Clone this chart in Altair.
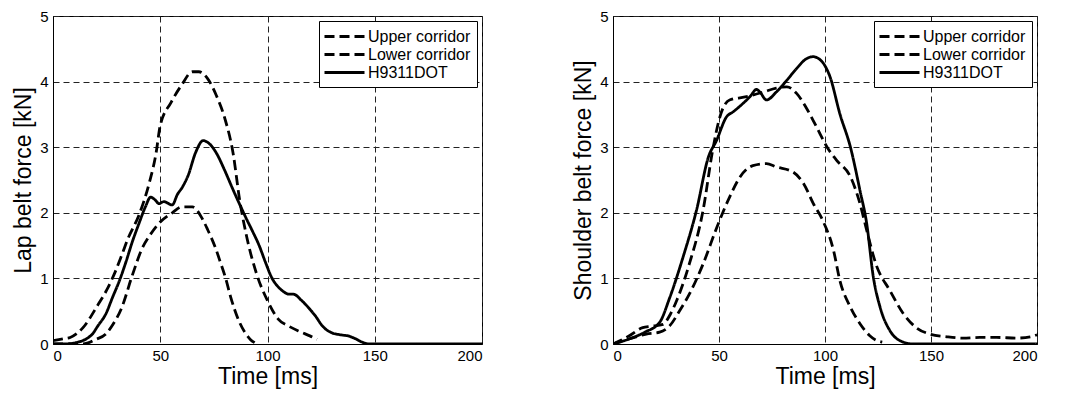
import altair as alt
import pandas as pd

series_names = ["Upper corridor", "Lower corridor", "H9311DOT"]

# ---- Lap belt force (left panel) ----
lap_upper_t = [0, 5, 8, 14, 21, 25, 29, 32, 35, 40, 45, 48, 50, 55, 60, 65, 68, 72, 76, 80, 84, 87, 90, 95, 100, 105, 110, 115, 120, 123]
lap_upper_f = [0.05, 0.08, 0.1, 0.25, 0.6, 0.82, 1.1, 1.35, 1.61, 1.96, 2.47, 2.9, 3.33, 3.68, 3.95, 4.15, 4.15, 4.05, 3.8, 3.45, 2.9, 2.2, 1.68, 1.06, 0.66, 0.38, 0.27, 0.19, 0.12, 0.07]

lap_lower_t = [0, 10, 14, 20, 24.5, 28, 32, 37, 41.6, 45, 49.4, 55.6, 60, 65, 69.6, 72, 75.8, 78, 80.5, 82.8, 86.7, 90, 92, 94]
lap_lower_f = [0.0, 0.0, 0.0, 0.07, 0.15, 0.3, 0.55, 1.05, 1.46, 1.65, 1.84, 2.0, 2.09, 2.09, 1.91, 1.75, 1.46, 1.25, 1.0, 0.72, 0.35, 0.15, 0.07, 0.02]

lap_dot_t = [0, 5, 10.6, 18.3, 21, 24.5, 28, 30.8, 34, 37, 40, 43.2, 45.5, 47.5, 49.4, 51.7, 55.6, 58, 60.3, 63, 66.5, 70, 73, 76, 80, 83.7, 87, 90, 93, 96, 99, 102, 105, 107, 110, 112, 116, 120, 122.5, 125, 127, 130, 134, 138, 141, 144, 147.5, 160, 180, 200]
lap_dot_f = [0.0, 0.0, 0.02, 0.15, 0.28, 0.45, 0.73, 0.95, 1.25, 1.56, 1.83, 2.1, 2.24, 2.2, 2.14, 2.17, 2.12, 2.28, 2.39, 2.57, 2.92, 3.1, 3.05, 2.92, 2.65, 2.37, 2.13, 1.92, 1.72, 1.51, 1.25, 1.01, 0.87, 0.81, 0.76, 0.76, 0.66, 0.52, 0.42, 0.3, 0.23, 0.17, 0.14, 0.12, 0.08, 0.03, 0.0, 0.0, 0.0, 0.0]

# ---- Shoulder belt force (right panel) ----
sh_upper_t = [0, 4, 7.9, 14, 18, 23.6, 27, 30, 36, 42.5, 47, 50.4, 55, 63, 70.9, 77, 82, 86.6, 91, 96, 101, 105.5, 112, 116.5, 119.7, 124, 130.7, 137, 143, 149.6, 157.5, 165, 173, 181, 190.5, 197, 200]
sh_upper_f = [0.0, 0.06, 0.13, 0.25, 0.27, 0.3, 0.45, 0.66, 1.22, 2.04, 2.95, 3.46, 3.72, 3.77, 3.84, 3.9, 3.92, 3.82, 3.61, 3.31, 3.0, 2.8, 2.55, 2.14, 1.73, 1.22, 0.81, 0.46, 0.25, 0.15, 0.11, 0.09, 0.1, 0.1, 0.09, 0.11, 0.14]

sh_lower_t = [0, 7.9, 15.7, 22, 26.8, 31.5, 36, 42.5, 49, 55, 60, 66, 72.4, 77, 85, 90, 94.5, 99, 104, 107, 112, 116.5, 121, 124, 127]
sh_lower_f = [0.0, 0.08, 0.15, 0.18, 0.28, 0.51, 0.76, 1.22, 1.78, 2.24, 2.55, 2.72, 2.75, 2.7, 2.62, 2.44, 2.14, 1.88, 1.43, 0.97, 0.56, 0.31, 0.13, 0.06, 0.03]

sh_dot_t = [0, 7.9, 15, 22, 26.8, 33, 39.4, 45, 48.8, 53.5, 56.7, 61.4, 64.6, 67.7, 69.3, 72.4, 77, 82, 86.6, 91.3, 94.5, 97, 99.2, 102.4, 107, 112, 116.5, 119.7, 122.8, 126, 130.7, 135.4, 141.7, 160, 180, 200]
sh_dot_f = [0.0, 0.08, 0.18, 0.33, 0.71, 1.32, 2.04, 2.85, 3.1, 3.46, 3.54, 3.67, 3.77, 3.88, 3.84, 3.72, 3.84, 4.02, 4.2, 4.35, 4.38, 4.35, 4.28, 4.07, 3.51, 3.0, 2.34, 1.83, 1.02, 0.56, 0.2, 0.05, 0.0, 0.0, 0.0, 0.0]


def build(pairs):
    rows = []
    for name, ts, fs in pairs:
        for t, f in zip(ts, fs):
            rows.append({"t": t, "f": f, "series": name})
    return pd.DataFrame(rows)


lap_df = build([
    ("Upper corridor", lap_upper_t, lap_upper_f),
    ("Lower corridor", lap_lower_t, lap_lower_f),
    ("H9311DOT", lap_dot_t, lap_dot_f),
])
sh_df = build([
    ("Upper corridor", sh_upper_t, sh_upper_f),
    ("Lower corridor", sh_lower_t, sh_lower_f),
    ("H9311DOT", sh_dot_t, sh_dot_f),
])

FONT = "Liberation Sans"


def panel(df, ytitle, w):
    return alt.Chart(df).mark_line(
        color="black", strokeWidth=2.8, interpolate="monotone", clip=True
    ).encode(
        x=alt.X("t:Q", title="Time [ms]",
                scale=alt.Scale(domain=[0, 200], nice=False),
                axis=alt.Axis(values=[0, 50, 100, 150, 200])),
        y=alt.Y("f:Q", title=ytitle,
                scale=alt.Scale(domain=[0, 5], nice=False),
                axis=alt.Axis(values=[0, 1, 2, 3, 4, 5])),
        strokeDash=alt.StrokeDash(
            "series:N",
            sort=series_names,
            scale=alt.Scale(domain=series_names,
                            range=[[10, 5], [10, 5], [1, 0]]),
            legend=alt.Legend(title=None, orient="top-right", offset=5),
        ),
        detail="series:N",
    ).properties(width=w, height=328)


left = panel(lap_df, "Lap belt force [kN]", 429)
right = panel(sh_df, "Shoulder belt force [kN]", 424)

chart = alt.hconcat(left, right, spacing=89).resolve_legend(
    strokeDash="independent"
).properties(
    padding={"left": 4, "top": 0, "right": 5, "bottom": 0}
).configure_view(
    stroke="black", strokeWidth=1
).configure_axis(
    labelFont=FONT, titleFont=FONT,
    labelFontSize=15, titleFontSize=23,
    labelColor="black", titleColor="black",
    titleFontWeight="normal",
    domainColor="black", domainWidth=1,
    ticks=False,
    grid=True, gridColor="#222222", gridDash=[6, 4], gridWidth=1, gridOpacity=1,
).configure_axisY(
    titlePadding=4, labelPadding=5,
).configure_axisX(
    titlePadding=2, labelPadding=4,
).configure_legend(
    labelFont=FONT, labelFontSize=16, labelColor="black",
    strokeColor="black", fillColor="white", padding=6, cornerRadius=0,
    symbolType="M-1.25,0H3.75", symbolSize=256, symbolStrokeWidth=3,
    symbolStrokeColor="black", symbolFillColor="transparent",
    rowPadding=0, labelOffset=24, labelLimit=300,
)

chart.save("out.html", embed_options={"renderer": "svg", "actions": False})
